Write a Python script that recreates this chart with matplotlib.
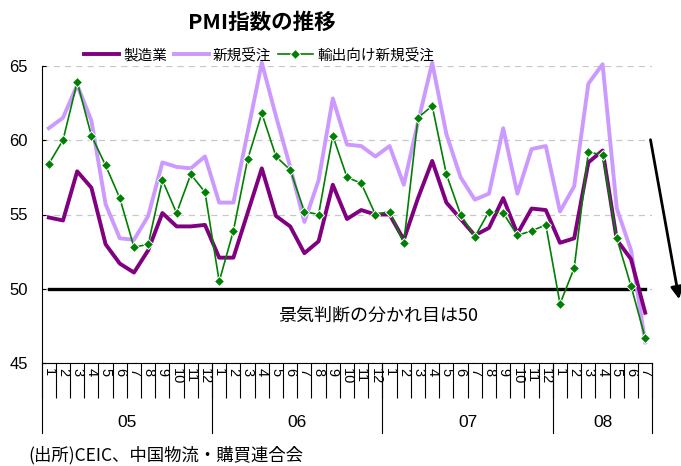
import numpy as np
import matplotlib
matplotlib.use("Agg")
import matplotlib.pyplot as plt
import matplotlib.transforms as mtransforms

plt.rcParams['font.family'] = ['Liberation Sans', 'Noto Sans CJK JP', 'DejaVu Sans']

# ---- data ----
years = ["05", "06", "07", "08"]
months_per_year = [12, 12, 12, 7]
month_labels = [str(m) for n in months_per_year for m in range(1, n + 1)]

manufacturing = [54.8, 54.6, 57.9, 56.8, 53.0, 51.7, 51.1, 52.6, 55.1, 54.2, 54.2, 54.3,
                 52.1, 52.1, 55.1, 58.1, 54.9, 54.2, 52.4, 53.2, 57.0, 54.7, 55.3, 55.0,
                 55.0, 53.3, 56.1, 58.6, 55.8, 54.7, 53.6, 54.1, 56.1, 53.7, 55.4, 55.3,
                 53.1, 53.4, 58.5, 59.3, 53.3, 52.0, 48.4]
new_orders = [60.8, 61.5, 63.7, 61.3, 55.7, 53.4, 53.3, 54.9, 58.5, 58.2, 58.1, 58.9,
              55.8, 55.8, 60.5, 65.2, 61.6, 58.2, 54.5, 57.3, 62.8, 59.7, 59.6, 58.9,
              59.6, 57.0, 61.2, 65.2, 60.4, 57.5, 56.0, 56.4, 60.8, 56.4, 59.4, 59.6,
              55.2, 56.9, 63.8, 65.1, 55.4, 52.6, 46.4]
export_orders = [58.4, 60.0, 63.9, 60.3, 58.3, 56.1, 52.8, 53.0, 57.3, 55.1, 57.7, 56.5,
                 50.5, 53.9, 58.7, 61.8, 58.9, 58.0, 55.2, 55.0, 60.3, 57.5, 57.1, 55.0,
                 55.2, 53.1, 61.5, 62.3, 57.7, 55.0, 53.5, 55.2, 55.1, 53.6, 53.9, 54.3,
                 49.0, 51.4, 59.2, 59.0, 53.4, 50.2, 46.7]
threshold = 50
series_names = ["製造業", "新規受注", "輸出向け新規受注"]
title = "PMI指数の推移"
threshold_note = "景気判断の分かれ目は50"
source = "(出所)CEIC、中国物流・購買連合会"

n = len(month_labels)
x = np.arange(n) + 0.5
cjk = ['Noto Sans CJK JP', 'DejaVu Sans']

fig = plt.figure(figsize=(6.81, 4.66), dpi=100)
ax = fig.add_axes([41.7 / 681, (466 - 363.3) / 466, (652.3 - 41.7) / 681, (363.3 - 65.7) / 466])
ax.set_xlim(0, n)
ax.set_ylim(45, 65)

# grid
ax.set_yticks([45, 50, 55, 60, 65])
ax.grid(axis='y', linestyle=(0, (5, 4)), color='#c8c8c8', linewidth=0.9)
ax.set_axisbelow(True)

# threshold line
ax.plot(x, [threshold] * n, color='black', lw=2.4, zorder=2)

l2, = ax.plot(x, new_orders, color='#CC99FF', lw=2.8, zorder=3, clip_on=False)
l1, = ax.plot(x, manufacturing, color='#800080', lw=2.8, zorder=4, clip_on=False)
l3, = ax.plot(x, export_orders, color='#008000', lw=1.2, marker='D', markersize=5,
              markeredgecolor='white', markeredgewidth=0.7, zorder=5, clip_on=False)

# spines
for s in ['top', 'right']:
    ax.spines[s].set_visible(False)
ax.spines['left'].set_linewidth(0.8)
ax.spines['bottom'].set_linewidth(0.8)

ax.tick_params(axis='y', direction='in', length=3, width=0.8, labelsize=12, pad=10)

# x: major ticks at category boundaries, minor labels at centres
ax.set_xticks(np.arange(0, n + 1))
ax.set_xticklabels([])
ax.tick_params(axis='x', which='major', direction='out', length=25, width=0.8, color='black')
ax.set_xticks(x, minor=True)
ax.set_xticklabels(month_labels, minor=True, rotation=-90, fontsize=10.5)
ax.tick_params(axis='x', which='minor', length=0, pad=3.5)

# year separators and labels
trans = mtransforms.blended_transform_factory(ax.transData, ax.transAxes)
bounds = np.concatenate([[0], np.cumsum(months_per_year)])
for b in bounds:
    ax.plot([b, b], [0, -0.234], transform=trans, color='black', lw=0.8, clip_on=False)
for i, yr in enumerate(years):
    ax.text((bounds[i] + bounds[i + 1]) / 2, -0.2, yr, transform=trans,
            ha='center', va='center', fontsize=12.5)

# threshold note
ax.text(23.7, 48.2, threshold_note, ha='center', va='center', fontsize=13, family=cjk)

# title
fig.text(262 / 681, 1 - 22 / 466, title, ha='center', va='center', fontsize=15.5,
         fontweight='bold', family=cjk)

# legend
leg = fig.legend([l1, l2, l3], series_names, loc='center', bbox_to_anchor=(259 / 681, 1 - 55 / 466),
                 ncol=3, frameon=False, handlelength=2.4, handletextpad=0.3,
                 columnspacing=0.45, prop={'family': cjk, 'size': 10.5})

# arrow
ax.annotate('', xy=(0.998, 1 - 302 / 466), xytext=(650 / 681, 1 - 137 / 466),
            xycoords='figure fraction', textcoords='figure fraction',
            arrowprops=dict(arrowstyle='-|>', color='black', lw=2, mutation_scale=18))

# source
fig.text(28 / 681, 1 - 455 / 466, source, ha='left', va='center', fontsize=12.5, family=cjk)

fig.savefig('out.png', dpi=100)
